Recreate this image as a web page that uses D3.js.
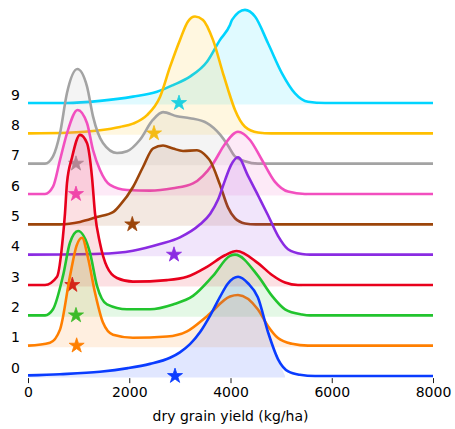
<!DOCTYPE html>
<html>
<head>
<meta charset="utf-8">
<script src="https://cdn.jsdelivr.net/npm/d3@7"></script>
<style>
  body { margin: 0; background: #fff; }
  svg { font-family: "DejaVu Sans", sans-serif; }
</style>
</head>
<body>
<div id="chart"></div>
<script>
// row labels, colours and star (mean) positions
const labels = ["0", "1", "2", "3", "4", "5", "6", "7", "8", "9"];
const colors = ["#0a3cff", "#ff7f00", "#22c42e", "#e8001c", "#8a2be2",
                "#9c450a", "#f24fbf", "#a3a3a3", "#ffbf00", "#00d4ff"];
const starX = [2904, 961, 948, 875, 2884, 2060, 948, 948, 2489, 2983];
const fillEnd = [5077, 5531, 5610, 5412, 5471, 4385, 5511, 4582, 4622, 5728];
const xTicks = [0, 2000, 4000, 6000, 8000];

// density curves: [yield kg/ha, height in row units]
const dens0 = [[0,0.02],[630,0.06],[1420,0.14],[1975,0.26],[2410,0.4],[2805,0.6],[3000,0.78],[3200,1.05],[3400,1.45],[3600,2.0],[3790,2.6],[3950,3.05],[4150,3.27],[4350,3.05],[4540,2.6],[4740,1.45],[4940,0.55],[5140,0.15],[5370,0.04],[5670,0],[8000,0]];
const dens1 = [[0,0],[435,0.1],[632,0.53],[830,2.3],[960,3.3],[1067,3.56],[1185,2.9],[1323,1.75],[1481,0.76],[1679,0.36],[2074,0.26],[2746,0.3],[3141,0.47],[3536,0.97],[3990,1.62],[4148,1.67],[4543,1.19],[4741,0.64],[4938,0.25],[5215,0.06],[5531,0],[8000,0]];
const dens2 = [[0,0],[336,0],[494,0.2],[691,1.3],[830,2.4],[988,2.78],[1225,2.06],[1363,0.97],[1560,0.36],[1956,0.2],[2410,0.2],[2864,0.36],[3259,0.64],[3654,1.3],[3990,1.96],[4089,2.0],[4543,1.3],[4820,0.64],[5077,0.2],[5412,0.03],[5570,0],[8000,0]];
const dens3 = [[0,0],[336,0],[573,0.27],[691,1.6],[731,2.37],[770,3.36],[869,4.2],[1027,4.95],[1165,4.68],[1264,3.56],[1323,2.37],[1422,1.38],[1560,0.6],[1758,0.23],[2074,0.11],[2746,0.16],[3141,0.27],[3536,0.6],[3891,0.98],[4120,1.12],[4543,0.72],[4820,0.33],[5077,0.08],[5333,0],[8000,0]];
const dens4 = [[0,0],[1422,0.03],[2074,0.13],[2607,0.35],[3002,0.57],[3400,1.0],[3600,1.35],[3750,1.8],[3891,2.45],[4010,2.95],[4148,3.21],[4346,2.6],[4560,1.9],[4741,1.3],[4938,0.62],[5136,0.18],[5412,0.02],[5570,0],[8000,0]];
const dens5 = [[0,0],[630,0],[1027,0.08],[1363,0.24],[1679,0.4],[1817,0.63],[2074,1.23],[2272,1.89],[2469,2.5],[2667,2.6],[2864,2.5],[3062,2.42],[3338,2.44],[3536,2.22],[3595,2.1],[3793,1.3],[3950,0.56],[4089,0.2],[4286,0.03],[4500,0],[8000,0]];
const dens6 = [[0,0],[336,0],[494,0.24],[632,1.12],[770,2.0],[980,2.77],[1165,2.34],[1284,1.45],[1422,0.79],[1620,0.3],[1956,0.13],[2410,0.11],[2864,0.19],[3259,0.35],[3654,1.0],[3891,1.65],[4148,2.05],[4385,1.78],[4622,1.12],[4879,0.4],[5136,0.08],[5471,0],[8000,0]];
const dens7 = [[0,0],[336,0],[494,0.24],[632,1.0],[770,2.33],[975,3.12],[1165,2.55],[1284,1.56],[1481,0.68],[1758,0.35],[1956,0.41],[2212,0.79],[2469,1.45],[2667,1.7],[2943,1.56],[3200,1.5],[3536,1.34],[3800,0.95],[3950,0.6],[4089,0.24],[4286,0.08],[4543,0],[8000,0]];
const dens8 = [[0,0],[770,0.02],[1422,0.1],[1817,0.21],[2074,0.32],[2351,0.6],[2607,1.2],[2805,2.19],[3002,3.08],[3160,3.69],[3299,3.85],[3457,3.74],[3654,3.08],[3852,1.98],[3950,1.45],[4089,0.77],[4286,0.22],[4543,0.03],[4800,0],[8000,0]];
const dens9 = [[0,0],[770,0],[1422,0.07],[2074,0.21],[2548,0.37],[2864,0.59],[3200,0.87],[3536,1.36],[3793,2.08],[3990,2.57],[4030,2.74],[4286,3.07],[4484,2.85],[4741,1.97],[5017,0.98],[5274,0.32],[5531,0.04],[5867,0],[8000,0]];
const densities = [dens0, dens1, dens2, dens3, dens4, dens5, dens6, dens7, dens8, dens9];

const width = 455, height = 429;

const x = d3.scaleLinear().domain([0, 8000]).range([28, 433]);
const y = d3.scaleLinear().domain([0, 9]).range([376, 103]);

const svg = d3.select("#chart").append("svg")
    .attr("width", width)
    .attr("height", height);

// top row first so lower rows sit on top
for (let i = labels.length - 1; i >= 0; i--) {
  let dens = densities[i];
  let g = svg.append("g").attr("class", "ridge");

  let fillPts = dens.filter(d => d[0] < fillEnd[i]).concat([[fillEnd[i], 0]]);
  let area = d3.area()
      .x(d => x(d[0]))
      .y0(y(i) + 1.5)
      .y1(d => y(i + d[1]))
      .curve(d3.curveMonotoneX);

  g.append("path")
      .attr("d", area(fillPts))
      .attr("fill", colors[i])
      .attr("fill-opacity", 0.12);

  let line = d3.line()
      .x(d => x(d[0]))
      .y(d => y(i + d[1]))
      .curve(d3.curveMonotoneX);

  g.append("path")
      .attr("d", line(dens))
      .attr("fill", "none")
      .attr("stroke", colors[i])
      .attr("stroke-width", 2.6)
      .attr("stroke-linejoin", "round");

  g.append("path")
      .attr("d", d3.symbol().type(d3.symbolStar).size(70)())
      .attr("transform", `translate(${x(starX[i])},${y(i)})`)
      .attr("fill", colors[i])
      .attr("stroke", colors[i])
      .attr("stroke-width", 0.8)
      .attr("stroke-linejoin", "round");
}

// row labels
svg.selectAll(".rowlabel")
  .data(labels)
  .enter().append("text")
    .attr("class", "rowlabel")
    .attr("x", 20)
    .attr("y", (d, i) => y(i + 0.27))
    .attr("dy", "0.35em")
    .attr("text-anchor", "end")
    .style("font-size", "14px")
    .text(d => d);

let xAxis = d3.axisBottom(x)
    .tickValues(xTicks)
    .tickFormat(d3.format("d"))
    .tickSize(5)
    .tickPadding(4);

let axisG = svg.append("g")
    .attr("transform", `translate(0,${y(-0.07)})`)
    .call(xAxis);
axisG.select(".domain").remove();
axisG.selectAll("text")
    .style("font-size", "14px")
    .style("font-family", "DejaVu Sans")
    .attr("fill", "#000");
axisG.selectAll("line").attr("stroke", "#000").attr("stroke-width", 0.9);

svg.append("text")
    .attr("x", x(4000))
    .attr("y", 421)
    .attr("text-anchor", "middle")
    .style("font-size", "14px")
    .text("dry grain yield (kg/ha)");
</script>
</body>
</html>
